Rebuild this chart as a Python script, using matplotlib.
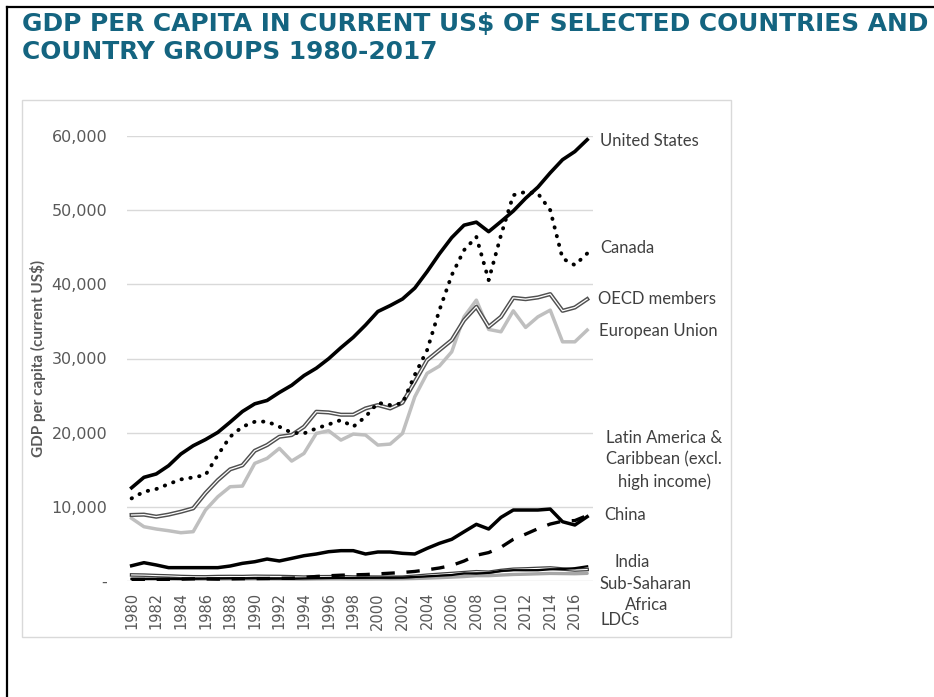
import matplotlib
matplotlib.use("Agg")
import matplotlib.pyplot as plt
from matplotlib.patches import Rectangle
from matplotlib.lines import Line2D
from matplotlib.ticker import FuncFormatter

W, H = 934, 697

years = list(range(1980, 2018))

united_states = [12575, 13976, 14434, 15544, 17121, 18237, 19071, 20039, 21417, 22857,
                 23889, 24342, 25419, 26387, 27695, 28691, 29968, 31459, 32854, 34515,
                 36335, 37133, 38023, 39496, 41713, 44115, 46299, 47976, 48383, 47100,
                 48467, 49883, 51603, 53107, 55033, 56803, 57904, 59500]
canada = [11140, 12040, 12400, 13070, 13700, 13970, 14290, 16980, 19450, 20800,
          21470, 21500, 20800, 19990, 19900, 20570, 21110, 21700, 20800, 22150,
          24030, 23720, 23950, 27800, 31130, 36520, 41240, 44610, 46400, 40570,
          46630, 52020, 52470, 52250, 50000, 43490, 42590, 44160]
oecd = [8900, 8950, 8670, 8950, 9340, 9800, 11850, 13600, 15050, 15600,
        17560, 18330, 19450, 19680, 20800, 22820, 22730, 22420, 22420, 23270,
        23720, 23270, 24030, 26860, 29780, 31130, 32480, 35170, 36970, 34270,
        35620, 38180, 38000, 38230, 38680, 36430, 36880, 38000]
eu = [8450, 7320, 7010, 6780, 6510, 6650, 9570, 11360, 12710, 12800,
      15860, 16530, 17880, 16170, 17200, 19900, 20260, 19000, 19810, 19680,
      18330, 18460, 19900, 24840, 28000, 28980, 30900, 35620, 37870, 33920,
      33600, 36430, 34190, 35620, 36520, 32250, 32250, 33830]
latin_america = [2060, 2470, 2160, 1800, 1800, 1800, 1800, 1800, 2020, 2380,
                 2600, 2960, 2700, 3050, 3410, 3640, 3950, 4090, 4090, 3640,
                 3910, 3910, 3730, 3640, 4400, 5080, 5620, 6640, 7640, 7010,
                 8580, 9570, 9570, 9570, 9700, 7990, 7550, 8670]
china = [195, 197, 203, 225, 251, 294, 282, 252, 284, 311,
         318, 333, 366, 377, 473, 610, 709, 782, 829, 873,
         959, 1053, 1149, 1289, 1509, 1753, 2099, 2694, 3468, 3832,
         4550, 5618, 6317, 7051, 7679, 8067, 8148, 8827]
india = [267, 271, 275, 292, 277, 297, 310, 340, 355, 347,
         368, 303, 317, 301, 346, 374, 400, 415, 413, 441,
         443, 452, 471, 547, 628, 715, 807, 1028, 999, 1102,
         1358, 1458, 1444, 1450, 1574, 1606, 1733, 1982]
sub_saharan = [820, 790, 730, 680, 610, 570, 560, 600, 610, 600,
               640, 620, 610, 570, 520, 570, 580, 590, 540, 530,
               520, 500, 520, 640, 780, 900, 1010, 1130, 1250, 1180,
               1420, 1580, 1630, 1700, 1760, 1620, 1480, 1550]
ldcs = [310, 300, 290, 270, 260, 250, 260, 270, 280, 280,
        300, 290, 280, 270, 250, 280, 290, 290, 280, 280,
        290, 290, 300, 340, 390, 450, 520, 600, 720, 720,
        800, 880, 920, 970, 1020, 1000, 980, 1030]

y_ticks = [0, 10000, 20000, 30000, 40000, 50000, 60000]
x_ticks = list(range(1980, 2018, 2))

title = "GDP PER CAPITA IN CURRENT US$ OF SELECTED COUNTRIES AND\nCOUNTRY GROUPS 1980-2017"
ylabel = "GDP per capita (current US$)"
labels = [
    ("United States", 600, 141, "left"),
    ("Canada", 600, 248, "left"),
    ("OECD members", 598, 299, "left"),
    ("European Union", 599, 331, "left"),
    ("Latin America &\nCaribbean (excl.\nhigh income)", 664, 460, "center"),
    ("China", 604, 515, "left"),
    ("India", 614, 562, "left"),
    ("Sub-Saharan", 599, 584, "left"),
    ("Africa", 625, 605, "left"),
    ("LDCs", 601, 620, "left"),
]


def fx(x):
    return x / W


def fy(y):
    return 1 - y / H


fig = plt.figure(figsize=(W / 100, H / 100), dpi=100)
fig.patch.set_facecolor("white")

# page frame and chart box
fig.add_artist(Line2D([fx(7), fx(7)], [0, fy(7)], color="black", lw=1.6))
fig.add_artist(Line2D([fx(7), 1], [fy(7), fy(7)], color="black", lw=1.6))
fig.add_artist(Rectangle((fx(22), fy(637)), fx(731) - fx(22), fy(100) - fy(637),
                         fill=False, ec="#d9d9d9", lw=1.0))

fig.text(fx(22), fy(12), title, ha="left", va="top", fontsize=17.9,
         fontweight="bold", color="#146480", linespacing=1.2,
         family="DejaVu Sans")

ax = fig.add_axes([fx(126.7), fy(581), fx(592.7) - fx(126.7), fy(136) - fy(581)])
ax.set_xlim(1979.6, 2017.45)
ax.set_ylim(0, 60000)
for s in ax.spines.values():
    s.set_visible(False)
ax.set_yticks(y_ticks)
ax.yaxis.grid(True, color="#d9d9d9", lw=1.0)
ax.set_axisbelow(True)
ax.yaxis.set_major_formatter(FuncFormatter(lambda v, p: "-" if v == 0 else f"{int(v):,}"))
ax.tick_params(axis="y", length=0, pad=14, labelsize=11.5, labelcolor="#595959")
ax.set_xticks(x_ticks)
ax.set_xticklabels([str(y) for y in x_ticks], rotation=90)
ax.tick_params(axis="x", length=0, pad=8, labelsize=10.5, labelcolor="#595959")

# lines
ax.plot(years, ldcs, color="#a6a6a6", lw=2.4, solid_capstyle="round")
ax.plot(years, sub_saharan, color="#404040", lw=2.6)
ax.plot(years, sub_saharan, color="white", lw=0.8)
ax.plot(years, india, color="black", lw=1.6)
ax.plot(years, china, color="black", lw=2.4, ls=(0, (4, 3.5)))
ax.plot(years, latin_america, color="black", lw=2.5, solid_joinstyle="round")
ax.plot(years, eu, color="#bfbfbf", lw=2.5, solid_joinstyle="round")
ax.plot(years, oecd, color="#505050", lw=3.0, solid_joinstyle="round")
ax.plot(years, oecd, color="white", lw=0.9, solid_joinstyle="round")
ax.plot(years, canada, color="black", lw=2.8, ls=(0, (0.1, 2.2)),
        dash_capstyle="round")
ax.plot(years, united_states, color="black", lw=2.6, solid_joinstyle="round")

fig.text(fx(38), fy(358), ylabel, rotation=90, ha="center", va="center",
         fontsize=11, fontweight="bold", color="#595959", family="Lato")

for text, x, y, ha in labels:
    fig.text(fx(x), fy(y), text, ha=ha, va="center", fontsize=12,
             color="#404040", family="Lato", linespacing=1.45,
             multialignment="center")

fig.savefig("out.png", dpi=100)
